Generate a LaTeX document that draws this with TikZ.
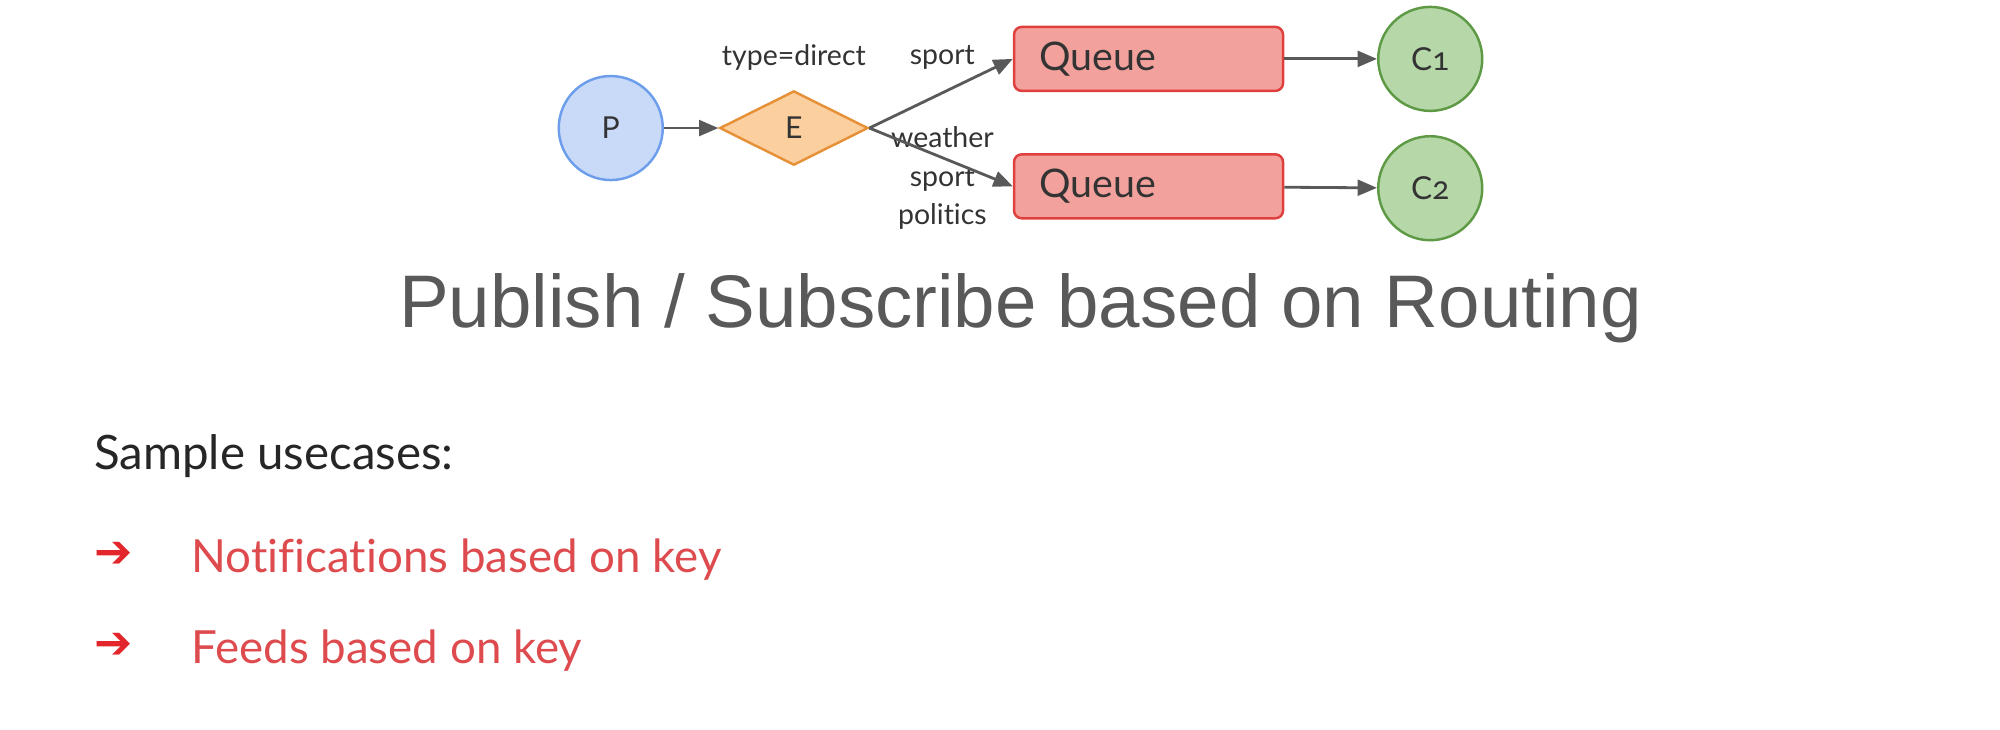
\documentclass[tikz,border=0pt]{standalone}
\usepackage{fontspec}
\setmainfont{Lato}[Ligatures=NoCommon]
\newfontfamily\titlefont{Liberation Sans}
\newfontfamily\symfont{DejaVu Sans}
\newfontfamily\consumerfont{Lato}[Numbers=OldStyle]
\usetikzlibrary{arrows.meta,shapes.geometric,positioning}

\definecolor{pubfill}{HTML}{C9DAF8}
\definecolor{pubdraw}{HTML}{6D9EEB}
\definecolor{exfill}{HTML}{FBD09E}
\definecolor{exdraw}{HTML}{E69138}
\definecolor{qfill}{HTML}{F2A19C}
\definecolor{qdraw}{HTML}{E0403D}
\definecolor{cfill}{HTML}{B6D7A8}
\definecolor{cdraw}{HTML}{5E9A45}
\definecolor{linkgray}{HTML}{595959}
\definecolor{labeltext}{HTML}{333333}
\definecolor{titlegray}{HTML}{595959}
\definecolor{usecasered}{HTML}{DE4B4E}
\definecolor{bulletred}{HTML}{E3262B}

\tikzset{
  party/.style={draw, circle, minimum size=10.4mm, inner sep=0pt, line width=0.7pt, text=labeltext},
  exchange/.style={draw=exdraw, fill=exfill, diamond, minimum width=14.85mm, minimum height=7.43mm, inner sep=0pt, line width=0.7pt, text=labeltext, font=\fontsize{8.6}{10}\selectfont},
  queue/.style={draw=qdraw, fill=qfill, rounded corners=2.2pt, minimum height=6.4mm, text width=21.9mm, inner xsep=2.5mm, inner ysep=0pt, align=left, line width=0.7pt, text=labeltext, font=\fontsize{11.2}{13}\selectfont},
  keylabel/.style={inner sep=0pt, align=center, text=labeltext, font=\fontsize{8.1}{10.9}\selectfont},
  link/.style={draw=linkgray, line width=0.8pt, -{Triangle[length=5.5pt,width=4.5pt]}},
  bullet/.style={anchor=base west, inner sep=0pt, text=bulletred, font=\symfont\fontsize{13}{15}\selectfont},
  usecase/.style={anchor=base west, inner sep=0pt, text=usecasered, font=\fontsize{13}{16}\selectfont}
}

\begin{document}
\begin{tikzpicture}[x=0.12804mm, y=-0.12804mm]
\useasboundingbox (0,0) rectangle (1562,570);

\node[party, draw=pubdraw, fill=pubfill, font=\fontsize{8.6}{10}\selectfont] (P) at (477,100) {P};
\node[exchange] (E) at (620,100) {E};
\node[queue] (Q1) at (897,46) {Queue};
\node[queue] (Q2) at (897,145.5) {Queue};
\node[party, draw=cdraw, fill=cfill, font=\consumerfont\fontsize{9}{10}\selectfont] (C1) at (1117,46) {C1};
\node[party, draw=cdraw, fill=cfill, font=\consumerfont\fontsize{9}{10}\selectfont] (C2) at (1117,147) {C2};

\node[keylabel] (type) at (620,45) {type=direct};
\node[keylabel] (key1) at (736,45) {sport};
\node[keylabel] (key2) at (736,139) {weather\\sport\\politics};

\draw[link] (P) -- (E);
\draw[link] (E.east) -- (Q1.west);
\draw[link] (E.east) -- (Q2.west);
\draw[link] (Q1) -- (C1);
\draw[link] (Q2) -- (C2);

\node[anchor=base, inner sep=0pt, text=titlegray, font=\titlefont\fontsize{21.2}{24}\selectfont] (title) at (797,256) {Publish / Subscribe based on Routing};

\node[anchor=base west, inner sep=0pt, text=black!85, font=\fontsize{13.5}{16}\selectfont] (sample) at (73,367) {Sample usecases:};
\node[bullet] (arrow1) at (73,443) {➔};
\node[usecase] (case1) at (149,447) {Notifications based on key};
\node[bullet] (arrow2) at (73,514) {➔};
\node[usecase] (case2) at (149,518) {Feeds based on key};
\end{tikzpicture}
\end{document}
